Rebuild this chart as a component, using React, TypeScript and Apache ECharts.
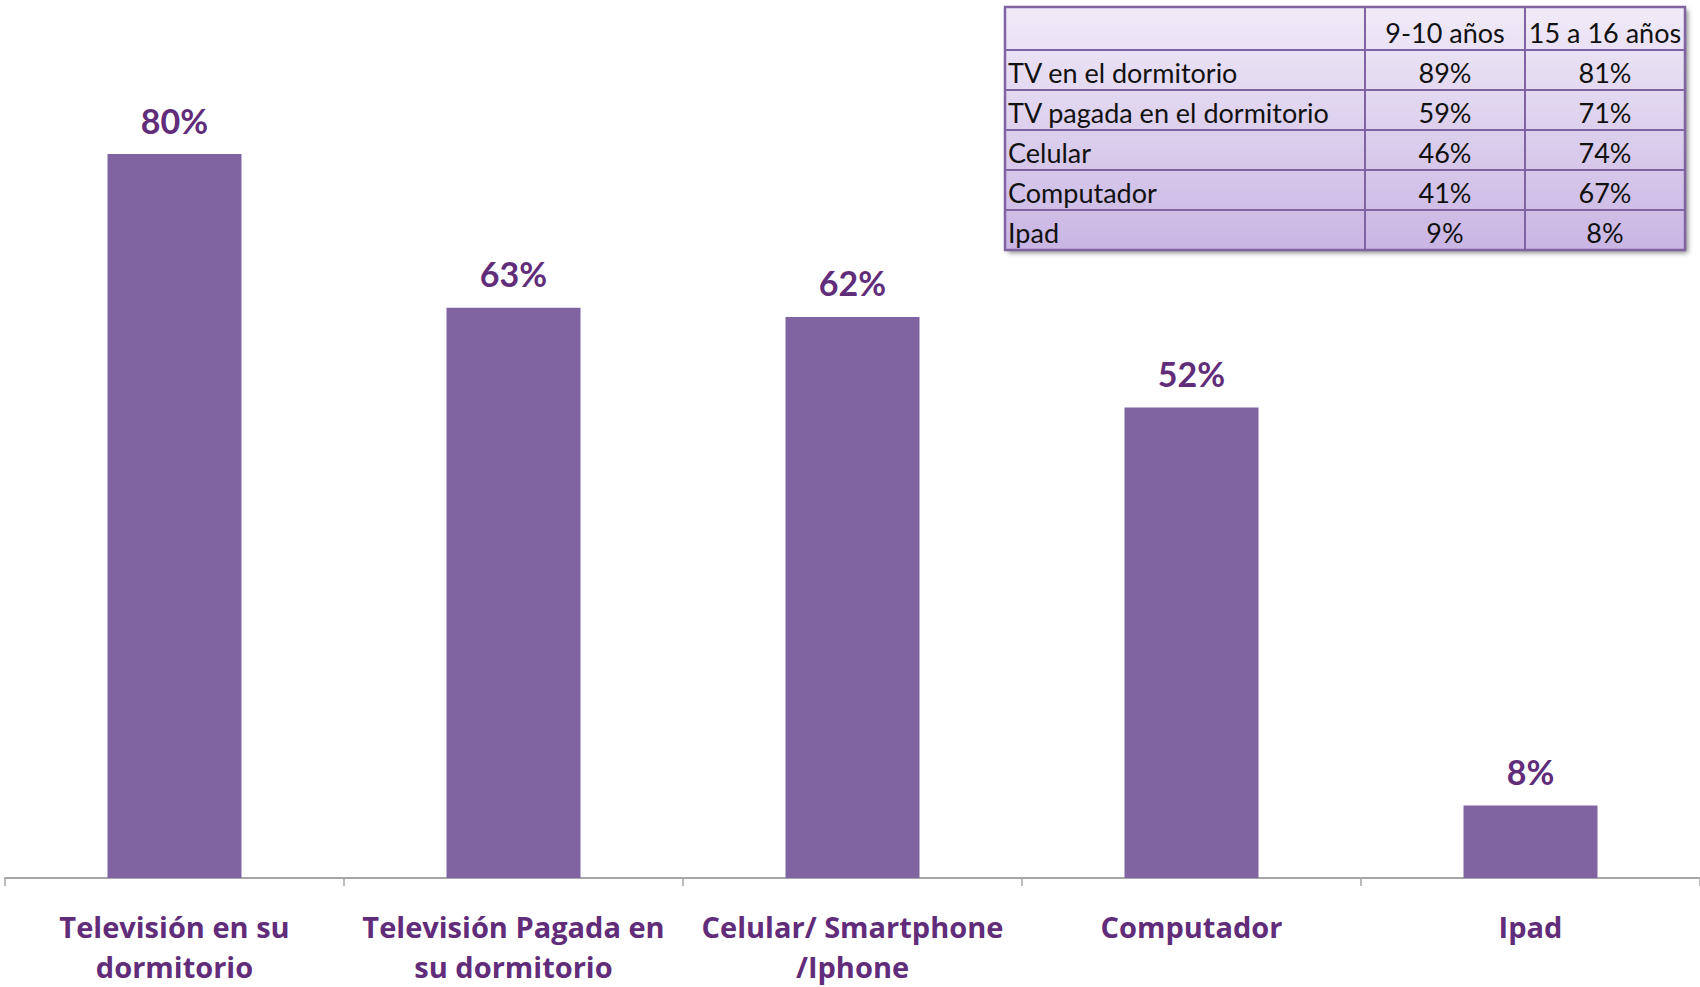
import React, { useEffect, useRef } from "react";
import * as echarts from "echarts";

const categories = [
  "Televisión en su\ndormitorio",
  "Televisión Pagada en\nsu dormitorio",
  "Celular/ Smartphone\n/Iphone",
  "Computador",
  "Ipad",
];
const values = [80, 63, 62, 52, 8];

const tableHeaders = ["", "9-10 años", "15 a 16 años"];
const tableRowLabels = [
  "TV en el dormitorio",
  "TV pagada en el dormitorio",
  "Celular",
  "Computador",
  "Ipad",
];
const tableAge9to10 = [89, 59, 46, 41, 9];
const tableAge15to16 = [81, 71, 74, 67, 8];

const BAR = "#8064a2";
const LABEL = "#612c7a";
const FONT = "Lato, 'Open Sans', sans-serif";
const AXFONT = "'Open Sans', Lato, sans-serif";

function buildTable() {
  const colX = [1005, 1365, 1525, 1685];
  const rowY = [7, 50, 90, 130, 170, 210, 250];
  const border = "#8064a2";
  const els: any[] = [];
  const left = colX[0];
  const top = rowY[0];
  const w = colX[3] - colX[0];
  const h = rowY[rowY.length - 1] - rowY[0];
  els.push({
    type: "rect",
    shape: { x: left, y: top, width: w, height: h },
    style: {
      fill: {
        type: "linear",
        x: 0,
        y: 0,
        x2: 0,
        y2: 1,
        colorStops: [
          { offset: 0, color: "#f1ebf8" },
          { offset: 1, color: "#c9b5e3" },
        ],
      },
      shadowBlur: 5,
      shadowOffsetX: 3,
      shadowOffsetY: 3,
      shadowColor: "rgba(0,0,0,0.45)",
    },
    z: 10,
  });
  for (let i = 1; i < rowY.length - 1; i++) {
    els.push({
      type: "line",
      shape: { x1: left, y1: rowY[i], x2: left + w, y2: rowY[i] },
      style: { stroke: border, lineWidth: 2 },
      z: 11,
    });
  }
  for (let j = 1; j < colX.length - 1; j++) {
    els.push({
      type: "line",
      shape: { x1: colX[j], y1: top, x2: colX[j], y2: top + h },
      style: { stroke: border, lineWidth: 2 },
      z: 11,
    });
  }
  els.push({
    type: "rect",
    shape: { x: left, y: top, width: w, height: h },
    style: { fill: "none", stroke: border, lineWidth: 2.5 },
    z: 12,
  });
  const txt = (text: string, x: number, y: number, align: string) => ({
    type: "text",
    x,
    y,
    style: {
      text,
      fontSize: 27,
      fontFamily: FONT,
      fill: "#111111",
      align,
      verticalAlign: "middle",
    },
    z: 13,
  });
  for (let j = 1; j < 3; j++) {
    els.push(txt(tableHeaders[j], (colX[j] + colX[j + 1]) / 2, (rowY[0] + rowY[1]) / 2 + 4, "center"));
  }
  for (let i = 0; i < tableRowLabels.length; i++) {
    const cy = (rowY[i + 1] + rowY[i + 2]) / 2 + 2;
    els.push(txt(tableRowLabels[i], left + 3, cy, "left"));
    els.push(txt(tableAge9to10[i] + "%", (colX[1] + colX[2]) / 2, cy, "center"));
    els.push(txt(tableAge15to16[i] + "%", (colX[2] + colX[3]) / 2, cy, "center"));
  }
  return els;
}

export default function App() {
  const ref = useRef<HTMLDivElement>(null);
  useEffect(() => {
    if (!ref.current) return;
    const chart = echarts.init(ref.current, null, { renderer: "svg" });
    chart.setOption({
      animation: false,
      backgroundColor: "#ffffff",
      grid: { left: 5, right: 0, top: 63.5, bottom: 109, containLabel: false },
      xAxis: {
        type: "category",
        data: categories,
        axisLine: { show: true, lineStyle: { color: "#a6a6a6", width: 2 } },
        axisTick: { show: true, alignWithLabel: false, length: 8, lineStyle: { color: "#a6a6a6", width: 1.5 } },
        axisLabel: {
          interval: 0,
          margin: 28,
          color: LABEL,
          fontFamily: AXFONT,
          fontWeight: "bold",
          fontSize: 29,
          lineHeight: 40,
        },
      },
      yAxis: {
        type: "value",
        min: 0,
        max: 90,
        show: false,
        splitLine: { show: false },
      },
      series: [
        {
          type: "bar",
          data: values,
          barWidth: 134,
          itemStyle: { color: BAR },
          label: {
            show: true,
            position: "top",
            distance: 17,
            formatter: "{c}%",
            color: LABEL,
            fontFamily: FONT,
            fontWeight: "bold",
            fontSize: 34,
          },
        },
      ],
      graphic: buildTable(),
    });
    return () => chart.dispose();
  }, []);
  return (
    <div
      ref={ref}
      style={{ position: "fixed", left: 0, top: 0, width: 1700, height: 987 }}
    />
  );
}
